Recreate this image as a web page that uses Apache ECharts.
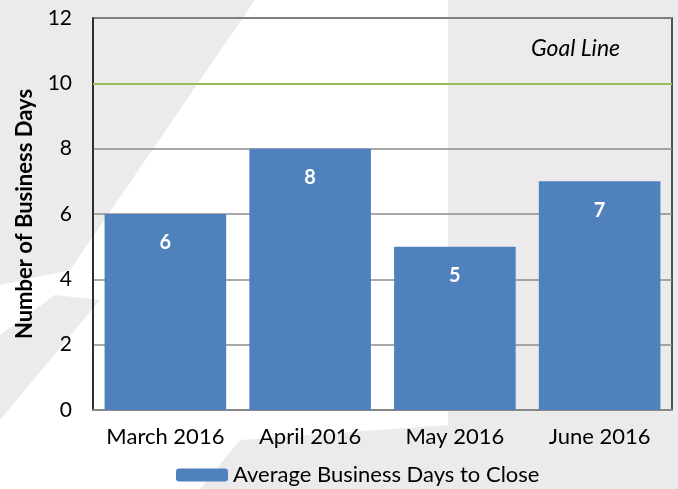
<!DOCTYPE html>
<html><head><meta charset="utf-8">
<script src="https://cdn.jsdelivr.net/npm/echarts@6/dist/echarts.min.js"></script>
<style>html,body{margin:0;padding:0;background:#fff}#c{width:678px;height:489px}</style>
</head><body><div id="c"></div>
<script>
const categories = ['March 2016', 'April 2016', 'May 2016', 'June 2016'];
const avgDays = [6, 8, 5, 7];
const goalValue = 10;
const yTicks = [0, 2, 4, 6, 8, 10, 12];
const seriesName = 'Average Business Days to Close';
const yAxisTitle = 'Number of Business Days';
const goalLabel = 'Goal Line';

const FONT = 'Lato, "Open Sans", sans-serif';
const BG = '#ebebeb';
const chart = echarts.init(document.getElementById('c'));
chart.setOption({
  animation: false,
  backgroundColor: '#ffffff',
  graphic: [
    {type:'polygon', z:-10, silent:true, shape:{points:[[0,0],[255,0],[70,270],[0,285]]}, style:{fill:BG}},
    {type:'polygon', z:-10, silent:true, shape:{points:[[0,335],[55,295],[100,300],[0,420]]}, style:{fill:BG}},
    {type:'polygon', z:-10, silent:true, shape:{points:[[448,0],[678,0],[678,489],[448,489]]}, style:{fill:BG}},
    {type:'polygon', z:-10, silent:true, shape:{points:[[200,489],[240,440],[448,425],[448,489]]}, style:{fill:BG}},
    {type:'text', left: 531, top: 37, style:{text: goalLabel, font:'italic 23px ' + FONT, fill:'#000'}}
  ],
  grid: {left: 93, right: 6, top: 18, bottom: 79, show: true, borderColor: '#222', borderWidth: 1.5, backgroundColor: 'transparent'},
  legend: {
    top: 459, left: 171, itemWidth: 52, itemHeight: 13, itemGap: 7,
    textStyle: {fontSize: 22, fontFamily: FONT, color: '#000'},
    data: [seriesName]
  },
  xAxis: {
    type: 'category', data: categories,
    axisLine: {lineStyle: {color: '#888', width: 2}},
    axisTick: {show: false},
    axisLabel: {interval: 0, fontSize: 22, fontFamily: FONT, color: '#000', margin: 16}
  },
  yAxis: {
    type: 'value', min: yTicks[0], max: yTicks[yTicks.length-1], interval: 2,
    name: yAxisTitle, nameLocation: 'middle', nameGap: 57,
    nameTextStyle: {fontSize: 22, fontWeight: 'bold', fontFamily: FONT, color: '#000'},
    axisLine: {show: true, lineStyle: {color: '#222', width: 1.5}},
    axisTick: {show: false},
    axisLabel: {fontSize: 21, fontFamily: FONT, color: '#000', margin: 21},
    splitLine: {lineStyle: {color: '#8c8c8c', width: 1.5}}
  },
  series: [{
    name: seriesName, type: 'bar', data: avgDays,
    barCategoryGap: '16%',
    itemStyle: {color: '#4f81bd'},
    label: {show: true, position: 'insideTop', distance: 19, color: '#fff', fontWeight: 'bold', fontSize: 20, fontFamily: FONT},
    markLine: {
      silent: true, symbol: 'none', label: {show: false},
      lineStyle: {color: '#9bbb59', width: 2, type: 'solid'},
      data: [{yAxis: goalValue}]
    }
  }]
});
</script></body></html>
